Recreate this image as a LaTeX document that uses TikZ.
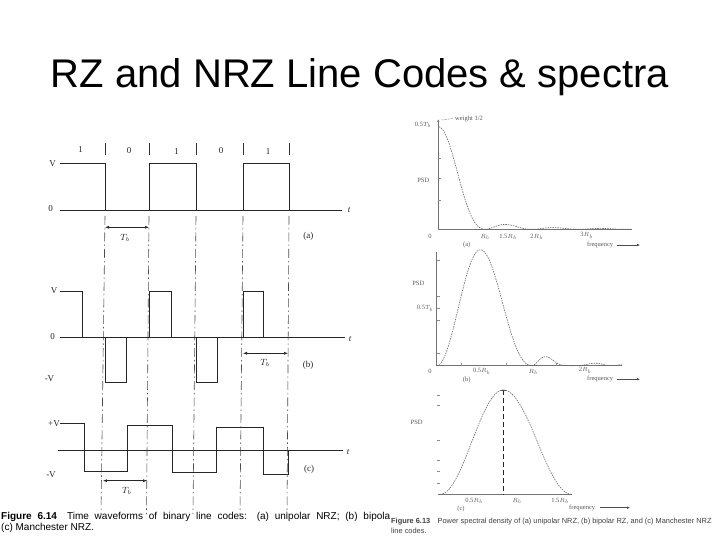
\documentclass[tikz,border=0pt]{standalone}
\usepackage{fontspec}
\setmainfont{Liberation Serif}
\setsansfont{Liberation Sans}
\usetikzlibrary{arrows.meta}
\begin{document}
\begin{tikzpicture}[x=1pt,y=-1pt,
  wave/.style={line width=0.8pt, draw=black!85, line join=miter},
  axisline/.style={line width=0.9pt, draw=black!85},
  bitline/.style={line width=0.6pt, draw=black!70, dash pattern=on 9pt off 3pt on 1.5pt off 3pt},
  lbl/.style={font=\fontsize{9}{9}\selectfont, text=black!85, inner sep=0pt},
  tbarrow/.style={{Latex[length=4pt,width=3pt]}-{Latex[length=4pt,width=3pt]}, line width=0.6pt, draw=black!85},
  spaxis/.style={line width=0.8pt, draw=black!55},
  sptick/.style={line width=0.5pt, draw=black!45},
  spcurve/.style={line width=0.6pt, draw=black!60, dash pattern=on 1.5pt off 1pt},
  splbl/.style={font=\fontsize{6.5}{6.5}\selectfont, text=black!65, inner sep=0pt},
  farrow/.style={-{Latex[length=3pt,width=2.5pt]}, line width=0.5pt, draw=black!70},
  capt/.style={font=\sffamily\fontsize{10}{12}\selectfont, inner sep=0pt, anchor=base west},
  captsmall/.style={font=\sffamily\fontsize{7.4}{8}\selectfont, text=black!75, inner sep=0pt, anchor=base west}
]
\fill[white] (0,0) rectangle (720,540);
\useasboundingbox (0,0) rectangle (720,540);

% title
\node[font=\sffamily\fontsize{40}{40}\selectfont, anchor=base, inner sep=0pt] (title) at (360,88) {RZ and NRZ Line Codes \& spectra};

% ---------------- left: waveforms ----------------
% bit labels and separators
\node[lbl] (b1) at (80.7,150) {1};
\node[lbl] (b2) at (129,150.7) {0};
\node[lbl] (b3) at (176.7,152) {1};
\node[lbl] (b4) at (221,150.7) {0};
\node[lbl] (b5) at (268,152) {1};
\foreach \x in {105,149,196,243,289} \draw[line width=0.6pt, black!80] (\x,143) -- (\x,155);

% dash-dot bit boundaries
\foreach \xt/\xb in {105/101,149/146.5,196/193,243/240,289/287}
  \draw[bitline] (\xt,216) -- (\xb,514);

% (a) unipolar NRZ
\draw[axisline] (60,210) -- (342,210);
\draw[wave] (60,163.3) -- (105,163.3) -- (105,210) -- (149,210) -- (149,163.3) -- (196,163.3)
  -- (196,210) -- (243,210) -- (243,163.3) -- (289,163.3) -- (289,210);
\node[lbl] (va) at (52.7,163.3) {V};
\node[lbl] (za) at (50.7,209) {0};
\node[lbl, font=\itshape\fontsize{9}{9}\selectfont] (ta) at (349,210.5) {t};
\draw[tbarrow] (105,227.3) -- (149,227.3);
\node[lbl] (tba) at (125,238) {$T_b$};
\node[lbl] (la) at (308.3,236) {(a)};

% (b) bipolar RZ
\draw[axisline] (60,337.3) -- (345,337.3);
\draw[wave] (60,291) -- (82,291) -- (82,337.3) -- (105,337.3) -- (105,382.7) -- (126,382.7)
  -- (126,337.3) -- (149,337.3) -- (149,291) -- (171,291) -- (171,337.3) -- (196,337.3)
  -- (196,382.7) -- (217,382.7) -- (217,337.3) -- (243,337.3) -- (243,291) -- (263,291)
  -- (263,337.3) -- (300,337.3);
\node[lbl] (vb) at (54,291) {V};
\node[lbl] (zb) at (52.7,336.5) {0};
\node[lbl] (mvb) at (49.5,378.5) {-V};
\node[lbl, font=\itshape\fontsize{9}{9}\selectfont] (tb) at (350,339) {t};
\draw[tbarrow] (243,353.3) -- (288,353.3);
\node[lbl] (tbb) at (265,363) {$T_b$};
\node[lbl] (lb) at (308,365) {(b)};

% (c) Manchester NRZ
\draw[axisline] (58,450.7) -- (343,450.7);
\draw[wave] (60,423.5) -- (84,423.5) -- (84,471) -- (127,471) -- (127,425) -- (172,425)
  -- (172,472) -- (216,472) -- (216,427) -- (263,427) -- (263,474) -- (288,474) -- (288,450.7);
\node[lbl] (pvc) at (54,423.3) {+V};
\node[lbl] (mvc) at (51,474.5) {-V};
\node[lbl, font=\itshape\fontsize{9}{9}\selectfont] (tc) at (348,452) {t};
\draw[tbarrow] (103,480.7) -- (147,480.7);
\node[lbl] (tbc) at (126.7,491) {$T_b$};
\node[lbl] (lc) at (309,469) {(c)};

% left caption
\node[capt] (cap1) at (1,519.5) {\makebox[389pt][s]{\textbf{Figure 6.14}\quad Time waveforms of binary line codes: (a) unipolar NRZ; (b) bipola}};
\node[capt] (cap2) at (1,530.5) {(c) Manchester NRZ.};

% ---------------- right: spectra ----------------
% (a) unipolar NRZ
\draw[spaxis] (438.3,229.3) -- (632,229.3);
\draw[spaxis, -{Latex[length=3pt,width=2.5pt]}] (438.3,229.3) -- (438.3,119);
\foreach \y in {158,178,200} \draw[sptick] (438.3,\y) -- (441.3,\y);
\draw[spcurve] plot[domain=0.01:4.15, samples=160, variable=\f]
  ({438.3+46.7*\f}, {229.3-102.6*(sin(180*\f)/(pi*\f))*(sin(180*\f)/(pi*\f))});
\node[splbl] (pa1) at (423,125) {0.5$T_b$};
\draw[sptick, dash pattern=on 2pt off 1pt] (441.7,120) -- (453,118.5);
\node[splbl, anchor=west] (wa) at (455,118.5) {weight 1/2};
\node[splbl] (psda) at (423.3,180) {PSD};
\node[splbl] (oa) at (430,236) {0};
\node[splbl] (ra1) at (485,237) {$R_b$};
\node[splbl] (ra2) at (508,237) {1.5$R_b$};
\node[splbl] (ra3) at (536.7,237) {2$R_b$};
\node[splbl] (ra4) at (586.7,235.5) {3$R_b$};
\node[splbl] (laa) at (466.7,245) {(a)};
\node[splbl, anchor=west] (fa) at (587,245) {frequency};
\draw[farrow] (617,245) -- (640,245);

% (b) bipolar RZ
\draw[spaxis] (436.7,251.7) -- (436.7,365.7) -- (621.7,365.7);
\foreach \y in {260,296.7,308.3,320,353.3} \draw[sptick] (436.7,\y) -- (439.7,\y);
\foreach \x in {461.7,506.7,556.7} \draw[sptick] (\x,365.7) -- (\x,363);
\draw[spcurve] plot[domain=0.005:1, samples=120, variable=\f]
  ({436.7+95*\f}, {365.7-140.6*sin(180*\f)*sin(180*\f)*(sin(90*\f)/(pi*\f/2))*(sin(90*\f)/(pi*\f/2))});
\draw[spcurve] plot[domain=1:3.25, samples=120, variable=\f]
  ({531.7+40*(\f-1)}, {365.7-0.5*140.6*sin(180*\f)*sin(180*\f)*(sin(90*\f)/(pi*\f/2))*(sin(90*\f)/(pi*\f/2))});
\node[splbl] (psdb) at (418.3,283.3) {PSD};
\node[splbl] (pb1) at (425,308.3) {0.5$T_b$};
\node[splbl] (ob) at (430,371.7) {0};
\node[splbl] (rb1) at (481.7,371.5) {0.5$R_b$};
\node[splbl] (rb2) at (533.3,371.7) {$R_b$};
\node[splbl] (rb3) at (585,370.5) {2$R_b$};
\node[splbl] (lbb) at (466.7,380) {(b)};
\node[splbl, anchor=west] (fb) at (587,379.3) {frequency};
\draw[farrow] (617,379.3) -- (640,379.3);

% (c) Manchester NRZ
\draw[spaxis] (438.3,494.3) -- (571.7,494.3);
\foreach \y in {395,405,440,460,471.7,483.3} \draw[sptick] (436.8,\y) -- (439.8,\y);
\draw[spcurve] plot[domain=440:503.3, samples=80, variable=\x]
  ({\x}, {494.3-104.3*(0.5+0.5*cos(180*(\x-503.3)/63.3))});
\draw[spcurve] plot[domain=503.3:571.7, samples=80, variable=\x]
  ({\x}, {494.3-104.3*(0.5+0.5*cos(180*(\x-503.3)/68.4))});
\draw[black!85, line width=0.9pt, dash pattern=on 5pt off 3pt] (503.3,390) -- (503.3,494.3);
\draw[black!70, line width=0.6pt] (501,390) -- (505.6,390);
\node[splbl] (psdc) at (416.7,422.7) {PSD};
\node[splbl] (rc1) at (474,501) {0.5$R_b$};
\node[splbl] (rc2) at (517,501) {$R_b$};
\node[splbl] (rc3) at (560,501) {1.5$R_b$};
\node[splbl] (lcc) at (461,508.5) {(c)};
\node[splbl, anchor=west] (fc) at (569,507.7) {frequency};
\draw[farrow] (600,507.7) -- (630,507.7);

% right caption
\node[captsmall] (cap3) at (391,523.5) {\textbf{Figure 6.13}\quad Power spectral density of (a) unipolar NRZ, (b) bipolar RZ, and (c) Manchester NRZ};
\node[captsmall] (cap4) at (391,533.5) {line codes.};
\end{tikzpicture}
\end{document}
